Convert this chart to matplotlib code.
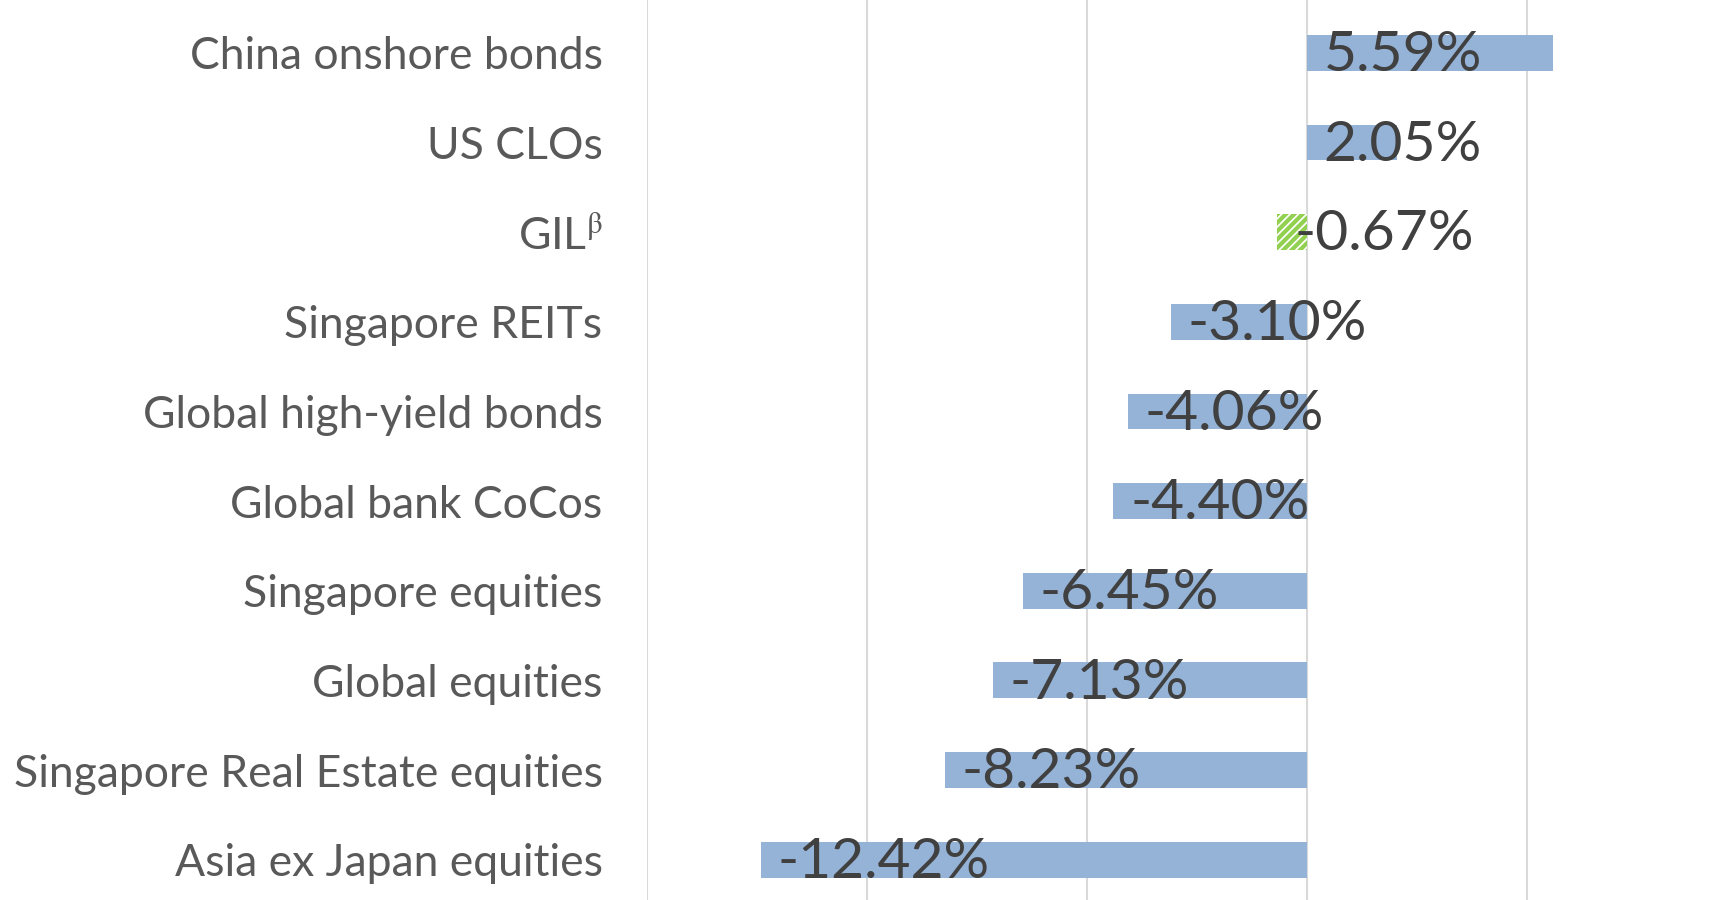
import matplotlib.pyplot as plt
import numpy as np

# data
categories = ['China onshore bonds', 'US CLOs', 'GIL$^{\\mathrm{\\beta}}$', 'Singapore REITs',
              'Global high-yield bonds', 'Global bank CoCos', 'Singapore equities',
              'Global equities', 'Singapore Real Estate equities', 'Asia ex Japan equities']
values = [5.59, 2.05, -0.67, -3.10, -4.06, -4.40, -6.45, -7.13, -8.23, -12.42]
labels = ['5.59%', '2.05%', '-0.67%', '-3.10%', '-4.06%', '-4.40%', '-6.45%',
          '-7.13%', '-8.23%', '-12.42%']
gridlines = [-15, -10, -5, 0, 5]

plt.rcParams['font.family'] = ['Lato', 'DejaVu Sans']
plt.rcParams['mathtext.fontset'] = 'stix'
plt.rcParams['hatch.linewidth'] = 3.0

fig = plt.figure(figsize=(17.35, 9), dpi=100)
ax = fig.add_axes([647 / 1735, 0, 1 - 647 / 1735, 1])

y = np.arange(len(categories))
colors = ['#95B3D7'] * len(values)
bars = ax.barh(y, values, height=0.4, color=colors, zorder=2)
# GIL bar is green hatched
gil = bars[2]
gil.set_facecolor('white')
gil.set_edgecolor('#92D050')
gil.set_hatch('////')
gil.set_linewidth(0)

for g in gridlines:
    ax.axvline(g, color='#D9D9D9', lw=1.5, zorder=1)

for yi, v, lab in zip(y, values, labels):
    ax.annotate(lab, (min(v, 0), yi), xytext=(12, -2), textcoords='offset points',
                ha='left', va='center', fontsize=41, color='#404040', zorder=3)

ax.set_xlim(-15, 9.73)
ax.set_ylim(9.45, -0.59)
ax.set_yticks(y)
ax.set_yticklabels(categories, fontsize=32, color='#595959')
ax.tick_params(axis='y', length=0, pad=32)
ax.set_xticks([])
for s in ax.spines.values():
    s.set_visible(False)

fig.savefig('out.png', dpi=100)
